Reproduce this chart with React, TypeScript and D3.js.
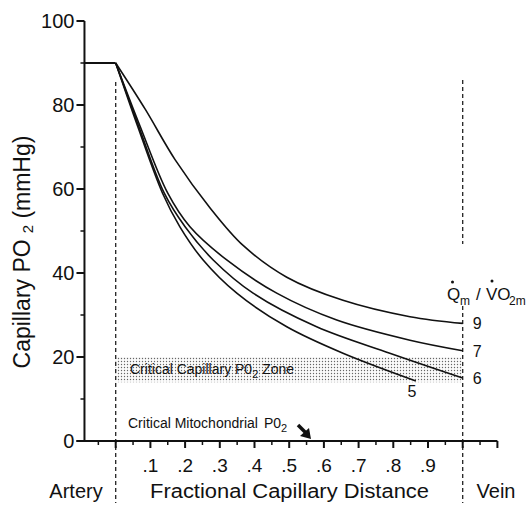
import React from "react";
import * as d3 from "d3";

// ---- data ----
const yTickValues = [0, 20, 40, 60, 80, 100];
const yMinorValues = [10, 30, 50, 70, 90];
const xTickValues = [0.1, 0.2, 0.3, 0.4, 0.5, 0.6, 0.7, 0.8, 0.9];
const xTickLabels = [".1", ".2", ".3", ".4", ".5", ".6", ".7", ".8", ".9"];
const arterialPO2 = 90;
const criticalZone = [14, 20];
const curveNames = ["9", "7", "6", "5"];

const curve9: [number, number][] = [
  [0, 90], [0.085, 79], [0.171, 67], [0.272, 55.5], [0.368, 46.5],
  [0.493, 39], [0.655, 33.5], [0.848, 29.6], [1.0, 28],
];
const curve7: [number, number][] = [
  [0, 90], [0.07, 75], [0.15, 59], [0.214, 51], [0.32, 43.1], [0.464, 35.2],
  [0.637, 28.8], [0.848, 24], [1.0, 21.5],
];
const curve6: [number, number][] = [
  [0, 90], [0.066, 75], [0.14, 59], [0.2, 51], [0.281, 43.1], [0.396, 35.2],
  [0.579, 27.2], [0.79, 20.9], [1.0, 15],
];
const curve5: [number, number][] = [
  [0, 90], [0.063, 75], [0.135, 59], [0.185, 51], [0.252, 43.1], [0.349, 35.2],
  [0.493, 27.2], [0.655, 20.9], [0.865, 14.3],
];
const curves = [curve9, curve7, curve6, curve5];

const FONT = "'Liberation Sans', Arial, Helvetica, sans-serif";

export default function App() {
  const x = d3.scaleLinear().domain([0, 1]).range([115.7, 462.7]);
  const y = d3.scaleLinear().domain([0, 100]).range([441, 21]);
  const axisX0 = x(-0.09);
  const axisX1 = x(1.1);
  const line = d3
    .line<[number, number]>()
    .x((d) => x(d[0]))
    .y((d) => y(d[1]))
    .curve(d3.curveCatmullRom.alpha(0.5));

  const minorTicks = d3.range(-1, 23).map((i) => +(i * 0.05).toFixed(2));

  return (
    <svg
      width={529}
      height={505}
      style={{ position: "absolute", left: 0, top: 0, background: "#fff" }}
      fontFamily={FONT}
    >
      <defs>
        <pattern id="stipple" width={3} height={3} patternUnits="userSpaceOnUse">
          <rect width={3} height={3} fill="#fbfbfb" />
          <circle cx={1.5} cy={1.5} r={0.7} fill="#666" />
        </pattern>
      </defs>

      {/* critical zone */}
      <rect
        x={x(0)}
        y={y(criticalZone[1])}
        width={x(1) - x(0)}
        height={y(criticalZone[0]) - y(criticalZone[1])}
        fill="url(#stipple)"
      />
      <text x={130} y={374} fontSize={14} fill="#111">
        Critical Capillary P0
        <tspan fontSize={11} dy={4}>2</tspan>
        <tspan dy={-4}> Zone</tspan>
      </text>

      {/* dashed artery / vein lines */}
      <line x1={x(0)} x2={x(0)} y1={82} y2={503} stroke="#222" strokeWidth={1.3} strokeDasharray="4,3" />
      <line x1={x(1)} x2={x(1)} y1={80} y2={244} stroke="#222" strokeWidth={1.3} strokeDasharray="4,3" />
      <line x1={x(1)} x2={x(1)} y1={306} y2={503} stroke="#222" strokeWidth={1.3} strokeDasharray="4,3" />

      {/* y axis */}
      <line x1={axisX0} x2={axisX0} y1={y(100)} y2={y(0)} stroke="#111" strokeWidth={2} />
      {yTickValues.map((v) => (
        <g key={"yt" + v}>
          <line x1={axisX0 - 8} x2={axisX0} y1={y(v)} y2={y(v)} stroke="#111" strokeWidth={2} />
          <text x={axisX0 - 10} y={y(v)} dy="0.36em" textAnchor="end" fontSize={20} fill="#111">
            {v}
          </text>
        </g>
      ))}
      {yMinorValues.map((v) => (
        <line key={"ym" + v} x1={axisX0 - 4} x2={axisX0} y1={y(v)} y2={y(v)} stroke="#111" strokeWidth={1.5} />
      ))}

      {/* x axis */}
      <line x1={axisX0 - 8} x2={axisX1} y1={y(0)} y2={y(0)} stroke="#111" strokeWidth={2} />
      {minorTicks.map((t, i) => {
        const major = Math.round(t * 100) % 10 === 0;
        return (
          <line
            key={"xt" + i}
            x1={x(t)}
            x2={x(t)}
            y1={y(0)}
            y2={y(0) + (major ? 7 : 4)}
            stroke="#111"
            strokeWidth={major ? 2 : 1.5}
          />
        );
      })}
      {xTickValues.map((t, i) => (
        <text key={"xl" + t} x={x(t)} y={472} textAnchor="middle" fontSize={19} fill="#111">
          {xTickLabels[i]}
        </text>
      ))}

      {/* axis titles */}
      <text x={76} y={498} textAnchor="middle" fontSize={20} fill="#111">Artery</text>
      <text x={150} y={498} fontSize={20} textLength={279} lengthAdjust="spacingAndGlyphs" fill="#111">
        Fractional Capillary Distance
      </text>
      <text x={496} y={498} textAnchor="middle" fontSize={20} fill="#111">Vein</text>
      <text transform="translate(30,252) rotate(-90)" textAnchor="middle" fontSize={23} fill="#111">
        Capillary PO
        <tspan fontSize={15} dx={6} dy={3}>2</tspan>
        <tspan dy={-3}> (mmHg)</tspan>
      </text>

      {/* arterial plateau */}
      <line x1={axisX0} x2={x(0)} y1={y(arterialPO2)} y2={y(arterialPO2)} stroke="#111" strokeWidth={2} />

      {/* curves */}
      {curves.map((c, i) => (
        <path key={"c" + i} d={line(c) || ""} fill="none" stroke="#111" strokeWidth={1.6} />
      ))}

      {/* curve labels */}
      {curves.slice(0, 3).map((c, i) => {
        const last = c[c.length - 1];
        return (
          <text key={"cl" + i} x={x(1) + 10} y={y(last[1]) + 6} fontSize={16} fill="#111">
            {curveNames[i]}
          </text>
        );
      })}
      <text
        x={x(curve5[curve5.length - 1][0]) - 4}
        y={y(curve5[curve5.length - 1][1]) + 16}
        textAnchor="middle"
        fontSize={16}
        fill="#111"
      >
        {curveNames[3]}
      </text>

      {/* ratio label */}
      <g fill="#111">
        <text x={447} y={300} fontSize={17}>Q</text>
        <text x={460} y={305} fontSize={12}>m</text>
        <text x={476} y={300} fontSize={17}>/</text>
        <text x={486} y={300} fontSize={17}>VO</text>
        <text x={509} y={305} fontSize={12}>2m</text>
        <circle cx={452.5} cy={282} r={1.5} />
        <circle cx={492} cy={281} r={1.5} />
      </g>

      {/* critical mitochondrial */}
      <text x={128} y={428} fontSize={14} fill="#111">
        Critical Mitochondrial
        <tspan dx={6}>P0</tspan>
        <tspan fontSize={11} dy={4}>2</tspan>
      </text>
      <line x1={298} y1={425} x2={306} y2={433} stroke="#111" strokeWidth={3.5} />
      <path d="M 311 439 L 300 436 L 309 428 Z" fill="#111" />
    </svg>
  );
}
